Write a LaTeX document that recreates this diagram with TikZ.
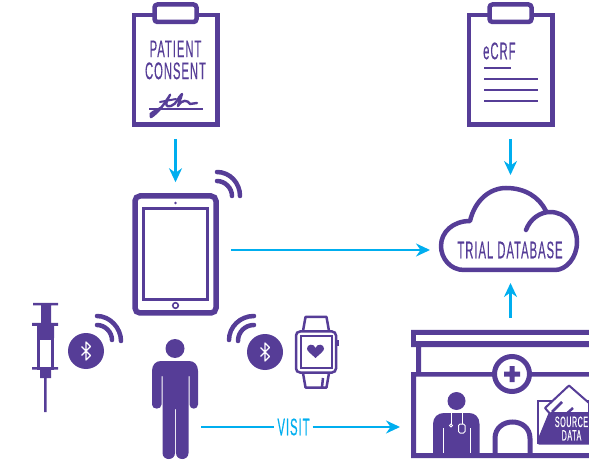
\documentclass[tikz,border=0pt]{standalone}
\usepackage{fontspec}
\usetikzlibrary{arrows.meta}
\newfontfamily\condfont[FakeStretch=0.47,FakeBold=0.25,LetterSpace=4]{Liberation Sans}
\definecolor{iconpurple}{HTML}{563D97}
\definecolor{flowcyan}{HTML}{00AEEF}
\tikzset{
  icon/.style={draw=iconpurple, line width=4.5pt},
  clipboard/.style={icon, fill=white, minimum width=83.5pt, minimum height=109.5pt},
  wave/.style={draw=iconpurple, line width=4.5pt, line cap=round},
  thin rule/.style={draw=iconpurple, line width=2.5pt},
  box/.style={inner sep=0pt, outer sep=0pt},
  flow/.style={draw=flowcyan, line width=2.8pt, -{Stealth[length=14pt,width=13pt]}, shorten <=12pt, shorten >=11pt},
  label/.style={text=iconpurple, font=\condfont\fontsize{24}{22}\selectfont, align=center, inner sep=1pt},
  btbadge/.style={fill=iconpurple, circle, minimum size=36pt, inner sep=0pt},
  btglyph/.pic={
    \draw[white, line width=1.2pt, line join=round] (-4.5,-4.5) -- (4.5,4.5) -- (0,9) -- (0,-9) -- (4.5,-4.5) -- (-4.5,4.5);
  },
}
\begin{document}
\begin{tikzpicture}[x=1pt, y=-1pt]
  \useasboundingbox (0,0) rectangle (589,462);
  % clipboards
  \node[clipboard] (consent) at (175.5,70) {};
  \node[clipboard] (ecrf) at (510.5,70) {};
  \foreach \sheet in {consent,ecrf}
    \draw[icon, fill=white, rounded corners=3pt] ([shift={(-21,-8.5)}]\sheet.north) rectangle ([shift={(21,9)}]\sheet.north);
  \node[label] (consentlabel) at (175.5,60) {PATIENT\\CONSENT};
  \draw[thin rule, line width=2.2pt] (149,109) -- (203,109);
  \draw[draw=iconpurple, line width=2.4pt, line cap=round, line join=round] (151,117) .. controls (158,113) and (165,103) .. (170,95)
    .. controls (172,92) and (160,109) .. (171,106) .. controls (177,104) and (178,97) .. (182,94)
    .. controls (181,98) and (178,105) .. (178,106) .. controls (182,99) and (188,100) .. (190,104) -- (197,103);
  \draw[draw=iconpurple, line width=3pt, line cap=round] (151,117) .. controls (149,112) and (156,112) .. (161,108);
  \draw[draw=iconpurple, line width=2pt, line cap=round] (160,102) -- (176,99);
  \node[label, anchor=west] (ecrflabel) at (482,51) {eCRF};
  \draw[thin rule] (484,68) -- (511,68);
  \foreach \rule in {79,90,101}
    \draw[thin rule] (484,\rule) -- (538,\rule);
  % tablet
  \node[icon, line width=5.5pt, rounded corners=5pt, minimum width=81pt, minimum height=117pt] (tablet) at (175.5,254.5) {};
  \node[draw=iconpurple, line width=2.5pt, minimum width=64pt, minimum height=91pt, box] (screen) at (175.5,254) {};
  \fill[iconpurple] (175.5,203) circle (1.4pt);
  \draw[draw=iconpurple, line width=1.6pt] (175.5,305.5) circle (2.8pt);
  \draw[wave] (217,181) .. controls (225,181) and (232,188) .. (232,196);
  \draw[wave] (217,172) .. controls (230,172) and (240,183) .. (240,196);
  % cloud
  \node[box, minimum width=139pt, minimum height=86pt] (database) at (510.5,229) {};
  \draw[icon, line join=round, line cap=round] (526,230) .. controls (530,219) and (540,212) .. (550,212)
    .. controls (566,212) and (577,226) .. (577,242) .. controls (577,258) and (566,270) .. (555,270)
    -- (464,270) .. controls (450,270) and (441,258) .. (441,246) .. controls (441,232) and (453,221) .. (470,221)
    .. controls (475,200) and (490,188) .. (506,188) .. controls (525,188) and (539,197) .. (546,211);
  \node[label] (databaselabel) at (510,250) {TRIAL DATABASE};
  % syringe
  \fill[iconpurple] (33,303) rectangle (58,305.5) (41,304) rectangle (51,324) (32,323) rectangle (58,326)
    (37,324) rectangle (54,338) (32,367) rectangle (58,369.5) (40,368) rectangle (51,378) (44,378) rectangle (46.5,412);
  \draw[draw=iconpurple, line width=3pt] (38.5,338) rectangle (52.5,368);
  % bluetooth left
  \node[btbadge] (btleft) at (86,351) {};
  \pic at (btleft) {btglyph};
  \draw[wave] (97,325) .. controls (105,325) and (112,332) .. (112,340);
  \draw[wave] (97,316) .. controls (110,316) and (121,328) .. (121,341);
  % bluetooth right
  \node[btbadge] (btright) at (265,352) {};
  \pic at (btright) {btglyph};
  \draw[wave] (254,325) .. controls (245,325) and (238,332) .. (238,341);
  \draw[wave] (254,316) .. controls (240,316) and (229,327) .. (229,340);
  % watch
  \draw[draw=iconpurple, line width=2.5pt, line join=round] (303,331) -- (305.5,317) -- (326.5,317) -- (329,331) (303,373) -- (305.5,387.5) -- (326.5,387.5) -- (329,373) (323,378) -- (322,387);
  \node[draw=iconpurple, line width=2.5pt, rounded corners=4pt, minimum width=40pt, minimum height=41pt, box] (watch) at (316,352) {};
  \node[draw=iconpurple, line width=2pt, minimum width=31pt, minimum height=32pt, box] (watchface) at (316,351.5) {};
  \fill[iconpurple] (337,340) rectangle (339,346);
  \fill[iconpurple] (315.5,358) .. controls (310,353) and (307,351) .. (307,348.5) .. controls (307,344) and (314,343) .. (315.5,348)
    .. controls (317,343) and (324,344) .. (324,348.5) .. controls (324,351) and (321,353) .. (315.5,358) -- cycle;
  % person
  \node[box, minimum width=46pt, minimum height=120pt] (person) at (175,399) {};
  \fill[iconpurple] (175,348.5) circle (9.5pt);
  \fill[iconpurple] (161,361) -- (189,361) .. controls (194.5,361) and (198,365) .. (198,371) -- (198,404.5) .. controls (198,410) and (189.5,410) .. (189.5,404.5)
    -- (189.5,376) -- (188.5,376) -- (188.5,453) .. controls (188.5,461) and (176,461) .. (176,453) -- (176,409) -- (175,409) -- (175,453)
    .. controls (175,461) and (162.5,461) .. (162.5,453) -- (162.5,376) -- (161.5,376) -- (161.5,404.5) .. controls (161.5,410) and (152,410) .. (152,404.5)
    -- (152,371) .. controls (152,365) and (155.5,361) .. (161,361) -- cycle;
  % hospital
  \node[box, minimum width=178pt, minimum height=128pt] (hospital) at (500,394) {};
  \fill[iconpurple] (411,330) rectangle (589,347) (416,347) rectangle (421,372) (411,372) rectangle (589,376.5) (411,372) rectangle (416,458) (411,453) rectangle (589,458);
  \fill[white] (416,335) rectangle (589,341);
  \node[icon, line width=5pt, fill=white, circle, minimum size=35pt, box] (cross) at (512,374) {};
  \fill[iconpurple] (504,371.5) rectangle (520,376.5) (509.5,366) rectangle (514.5,382);
  \draw[icon, line width=5pt] (495,453) -- (495,438.5) .. controls (495,416.5) and (530,416.5) .. (530,438.5) -- (530,453);
  % doctor
  \fill[iconpurple] (456.5,401) circle (9pt);
  \fill[iconpurple] (433,453) -- (433,424) .. controls (433,417) and (438,413) .. (444,413) -- (469,413) .. controls (475,413) and (479.5,417) .. (479.5,424) -- (479.5,453) -- cycle;
  \draw[draw=white, line width=1pt] (443,428) -- (443,453) (470,428) -- (470,453) (451,413) -- (451,424) (462,413) -- (462,424);
  \draw[draw=white, line width=1pt] (451,425.5) circle (1.5pt);
  \draw[draw=white, line width=1pt, rounded corners=1.5pt] (458.5,424) rectangle (465,433);
  % source data folder
  \draw[draw=iconpurple, line width=2.5pt, fill=white] (589,401) -- (538,401) -- (538,443) -- (589,443);
  \draw[draw=iconpurple, line width=2pt, fill=white, line join=round] (551,415) -- (545,408) -- (569,385.5) -- (589,403) -- (589,415) -- cycle;
  \draw[thin rule] (562,402) -- (552,412) (573,408) -- (564,416);
  \fill[iconpurple, rounded corners=2pt] (549,412) -- (592,412) -- (592,444.5) -- (537,444.5) -- (537,441) -- cycle;
  \node[text=white, font=\condfont\fontsize{15}{13.5}\selectfont, align=center, inner sep=0pt] (sourcelabel) at (571.5,428.5) {SOURCE\\DATA};
  % connectors
  \node[text=flowcyan, font=\condfont\fontsize{24}{22}\selectfont, inner sep=3pt] (visit) at (293.5,427) {VISIT};
  \draw[flow] (consent.south -| tablet) -- (tablet.north);
  \draw[flow] (ecrf.south -| database) -- (database.north);
  \draw[flow] (tablet.east |- databaselabel) -- (databaselabel -| database.west);
  \draw[flow] (database.south |- hospital.north) -- (database.south);
  \draw[draw=flowcyan, line width=2.8pt, shorten <=3pt] (person.east |- visit) -- (visit);
  \draw[flow, shorten <=0pt] (visit) -- (visit -| hospital.west);
\end{tikzpicture}
\end{document}
